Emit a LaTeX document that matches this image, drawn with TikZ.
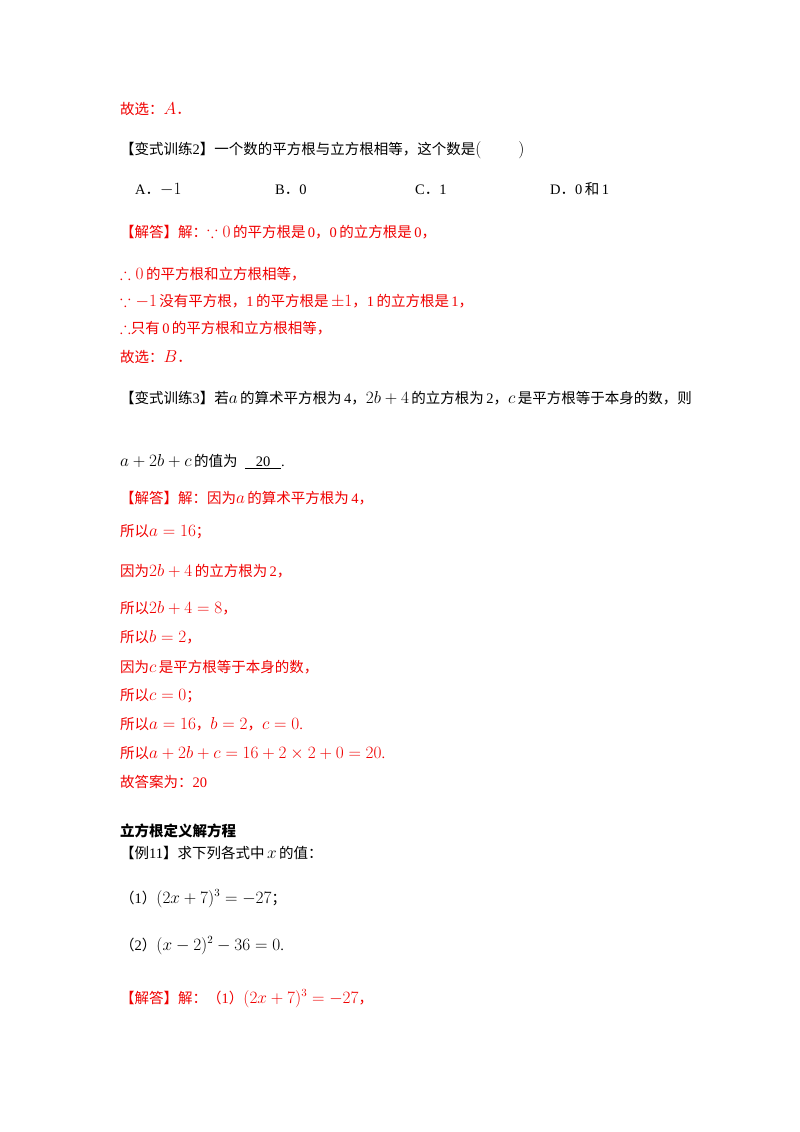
\documentclass[tikz,border=0pt]{standalone}
\usepackage{amssymb}
\usepackage{fontspec}
\setmainfont{Liberation Serif}
\newfontfamily\cjk{Noto Sans CJK SC}
\newcommand{\zh}[1]{{\cjk #1}}
\newcommand{\m}[1]{{\fontsize{16}{18}\selectfont$#1$}}
\definecolor{ans}{RGB}{240,0,0}
\begin{document}
\begin{tikzpicture}[x=1pt,y=-1pt,
  t/.style={anchor=base west,inner sep=0pt,font=\fontsize{14.5}{17}\selectfont},
  r/.style={t,text=ans}]
\useasboundingbox (0,0) rectangle (800,1132);
\fill[white] (0,0) rectangle (800,1132);
\node[r] (l1) at (120,114) {\zh{故选：}\m{A}\zh{．}};
\node[t] (l2) at (120,154) {\zh{【变式训练}2\zh{】一个数的平方根与立方根相等，这个数是}\m{(\qquad\;)}};
\node[t] (oa) at (135,194) {A\zh{．}\m{-1}};
\node[t] (ob) at (275,194) {B\zh{．}0};
\node[t] (oc) at (415,194) {C\zh{．}1};
\node[t] (od) at (550,194) {D\zh{．}0\,\zh{和}\,1};
\node[r] (l3) at (120,237) {\zh{【解答】解：}\m{\because0}\,\zh{的平方根是}\,0\zh{，}0\,\zh{的立方根是}\,0\zh{，}};
\node[r] (l4) at (120,279) {\m{\therefore0}\,\zh{的平方根和立方根相等，}};
\node[r] (l5) at (120,306) {\m{\because-1}\,\zh{没有平方根，}1\,\zh{的平方根是}\,\m{\pm1}\zh{，}1\,\zh{的立方根是}\,1\zh{，}};
\node[r] (l6) at (120,333) {\m{\therefore}\zh{只有}\,0\,\zh{的平方根和立方根相等，}};
\node[r] (l7) at (120,362) {\zh{故选：}\m{B}\zh{．}};
\node[t] (l8) at (120,403) {\zh{【变式训练}3\zh{】若}\m{a}\,\zh{的算术平方根为}\,4\zh{，}\m{2b+4}\,\zh{的立方根为}\,2\zh{，}\m{c}\,\zh{是平方根等于本身的数，则}};
\node[t] (l9) at (120,466) {\m{a+2b+c}\,\zh{的值为}\ \ \underline{\ \ \ 20\ \ \ }.};
\node[r] (m1) at (120,503) {\zh{【解答】解：因为}\m{a}\,\zh{的算术平方根为}\,4\zh{，}};
\node[r] (m2) at (120,536) {\zh{所以}\m{a=16}\zh{；}};
\node[r] (m3) at (120,576) {\zh{因为}\m{2b+4}\,\zh{的立方根为}\,2\zh{，}};
\node[r] (m4) at (120,613) {\zh{所以}\m{2b+4=8}\zh{，}};
\node[r] (m5) at (120,642) {\zh{所以}\m{b=2}\zh{，}};
\node[r] (m6) at (120,672) {\zh{因为}\m{c}\,\zh{是平方根等于本身的数，}};
\node[r] (m7) at (120,700) {\zh{所以}\m{c=0}\zh{；}};
\node[r] (m8) at (120,729) {\zh{所以}\m{a=16}\zh{，}\m{b=2}\zh{，}\m{c=0}.};
\node[r] (m9) at (120,758) {\zh{所以}\m{a+2b+c=16+2\times2+0=20}.};
\node[r] (m10) at (120,787) {\zh{故答案为：}20};
\node[t] (h) at (120,836) {\zh{\bfseries 立方根定义解方程}};
\node[t] (e1) at (120,858) {\zh{【例}11\zh{】求下列各式中}\,\m{x}\,\zh{的值：}};
\node[t] (e2) at (120,903) {\zh{（}1\zh{）}\m{(2x+7)^3=-27}\zh{；}};
\node[t] (e3) at (120,950) {\zh{（}2\zh{）}\m{(x-2)^2-36=0}.};
\node[r] (s1) at (120,1003) {\zh{【解答】解：（}1\zh{）}\m{(2x+7)^3=-27}\zh{，}};
\end{tikzpicture}
\end{document}
